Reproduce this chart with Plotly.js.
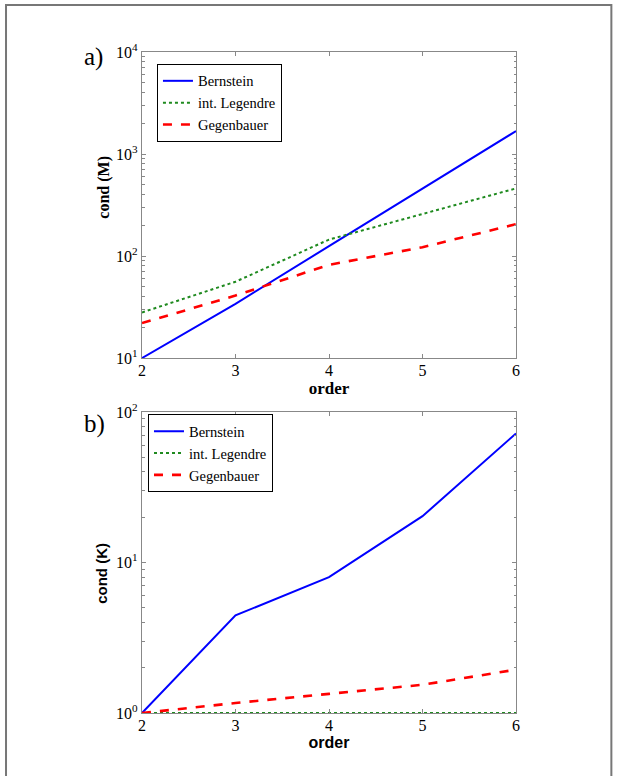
<!DOCTYPE html>
<html>
<head>
<meta charset="utf-8">
<script src="https://cdn.plot.ly/plotly-3.0.1.min.js"></script>
<style>html,body{margin:0;padding:0;background:#fff;}#chart{width:617px;height:776px;}</style>
</head>
<body>
<div id="chart"></div>
<script>
const order = [2, 3, 4, 5, 6];
// panel a) cond(M)
const condM_Bernstein = [10, 34, 125, 460, 1680];
const condM_Legendre = [28, 56, 145, 260, 460];
const condM_Gegenbauer = [22, 41, 82, 122, 205];
// panel b) cond(K)
const condK_Bernstein = [1, 4.45, 8.0, 20.3, 72];
const condK_Legendre = [1, 1, 1, 1, 1];
const condK_Gegenbauer = [1, 1.165, 1.34, 1.54, 1.94];
const seriesNames = ['Bernstein', 'int. Legendre', 'Gegenbauer'];
// y tick labels
const tickValsM = [10, 100, 1000, 10000];
const tickTextM = ['10<sup>1</sup>', '10<sup>2</sup>', '10<sup>3</sup>', '10<sup>4</sup>'];
const tickValsK = [1, 10, 100];
const tickTextK = ['10<sup>0</sup>', '10<sup>1</sup>', '10<sup>2</sup>'];

const serif = "Liberation Serif";
const sans = "Liberation Sans";
const styles = [
  {color: '#0000ff', width: 2, dash: 'solid'},
  {color: '#1f8a1f', width: 2, dash: 'dot'},
  {color: '#ff0000', width: 2.6, dash: 'dash'}
];

function tr(y, i, xa, ya, leg) {
  return {x: order, y: y, name: seriesNames[i], type: 'scatter', mode: 'lines',
    line: styles[i], xaxis: xa, yaxis: ya, legend: leg, cliponaxis: false};
}

const data = [
  tr(condM_Bernstein, 0, 'x', 'y', 'legend'),
  tr(condM_Legendre, 1, 'x', 'y', 'legend'),
  tr(condM_Gegenbauer, 2, 'x', 'y', 'legend'),
  tr(condK_Bernstein, 0, 'x2', 'y2', 'legend2'),
  tr(condK_Legendre, 1, 'x2', 'y2', 'legend2'),
  tr(condK_Gegenbauer, 2, 'x2', 'y2', 'legend2')
];

function minorVals(lo, hi) {
  const out = [];
  for (let e = lo; e < hi; e++) for (let m = 2; m <= 9; m++) out.push(m * Math.pow(10, e));
  return out;
}

const axisCommon = {
  showgrid: false, zeroline: false, showline: true, linecolor: '#888', linewidth: 1.2,
  mirror: 'allticks', ticks: 'inside', ticklen: 4, tickcolor: '#888',
  tickfont: {family: serif, size: 16, color: '#000'}
};

function xax(anchor, titleFont) {
  return Object.assign({}, axisCommon, {
    range: [2, 6], dtick: 1, tick0: 2, anchor: anchor,
    ticklabelstandoff: -2,
    title: {text: 'order', font: titleFont, standoff: 0}
  });
}
function yax(range, domain, anchor, tv, tt, mv) {
  return Object.assign({}, axisCommon, {
    type: 'log', range: range, domain: domain, anchor: anchor,
    tickmode: 'array', tickvals: tv, ticktext: tt,
    minor: {ticks: 'inside', ticklen: 2.5, tickmode: 'array', tickvals: mv, tickcolor: '#888'}
  });
}

const layout = {
  width: 617, height: 776,
  margin: {l: 142, r: 101, t: 52, b: 63},
  paper_bgcolor: '#fff', plot_bgcolor: '#fff',
  showlegend: true,
  xaxis: xax('y', {family: serif, size: 17, color: '#000', weight: 'bold'}),
  yaxis: yax([1, 4], [0.537, 1], 'x', tickValsM, tickTextM, minorVals(1, 4)),
  xaxis2: xax('y2', {family: sans, size: 16, color: '#000', weight: 'bold'}),
  yaxis2: yax([0, 2], [0, 0.4554], 'x2', tickValsK, tickTextK, minorVals(0, 2)),
  legend: {x: 0.04, y: 0.982, xanchor: 'left', yanchor: 'top', bgcolor: '#fff',
    bordercolor: '#000', borderwidth: 1, font: {family: serif, size: 14.5, color: '#000'},
    itemwidth: 30, tracegroupgap: 0},
  legend2: {x: 0.016, y: 0.452, xanchor: 'left', yanchor: 'top', bgcolor: '#fff',
    bordercolor: '#000', borderwidth: 1, font: {family: serif, size: 14.5, color: '#000'},
    itemwidth: 30, tracegroupgap: 0},
  annotations: [
    {text: 'a)', xref: 'paper', yref: 'paper', x: -0.16, y: 0.993, xanchor: 'left', yanchor: 'middle',
      showarrow: false, font: {family: serif, size: 25, color: '#000'}},
    {text: 'b)', xref: 'paper', yref: 'paper', x: -0.16, y: 0.437, xanchor: 'left', yanchor: 'middle',
      showarrow: false, font: {family: serif, size: 25, color: '#000'}},
    {text: 'cond (M)', xref: 'paper', yref: 'paper', x: -0.102, y: 0.796, xanchor: 'center', yanchor: 'middle',
      textangle: -90, showarrow: false, font: {family: serif, size: 16, color: '#000', weight: 'bold'}},
    {text: 'cond (K)', xref: 'paper', yref: 'paper', x: -0.107, y: 0.212, xanchor: 'center', yanchor: 'middle',
      textangle: -90, showarrow: false, font: {family: sans, size: 15, color: '#000', weight: 'bold'}}
  ],
  shapes: [
    {type: 'path', xref: 'paper', yref: 'paper',
      path: 'M -0.3636,-0.0953 L -0.3636,1.0711 L 1.255,1.0711 L 1.255,-0.0953',
      line: {color: '#777', width: 2}}
  ]
};

Plotly.newPlot('chart', data, layout, {displayModeBar: false, staticPlot: true});
</script>
</body>
</html>
